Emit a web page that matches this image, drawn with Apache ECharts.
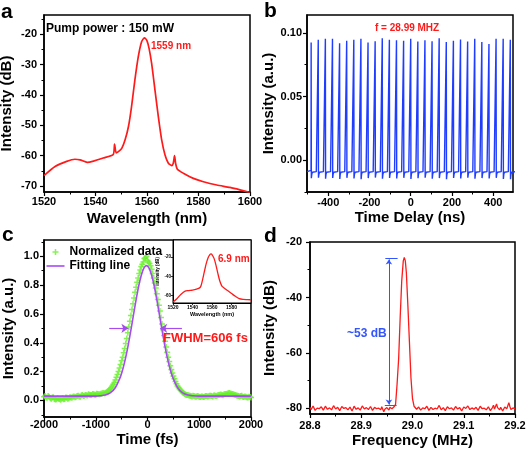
<!DOCTYPE html>
<html><head><meta charset="utf-8">
<script src="https://cdn.jsdelivr.net/npm/echarts@6/dist/echarts.min.js"></script>
<style>html,body{margin:0;padding:0;background:#fff}#c{width:527px;height:450px}</style>
</head><body><div id="c"></div>
<script>
// ---------- DATA ----------
// (a) optical spectrum
const A_WL = [1520,1524.3,1528.8,1532,1534,1536.8,1539.2,1543,1546.9,1547.4,1548,1548.9,1550.2,1551.5,1552.8,1554,1555.3,1556.6,1557.9,1559,1559.9,1560.8,1561.8,1563.1,1564.4,1565.7,1567,1568.3,1569.6,1570.2,1570.7,1571.1,1571.8,1574.1,1578,1581.9,1587.1,1592.2,1596.1,1600];
const A_DB = [-66.6,-63.6,-61.9,-61.2,-61.4,-62.2,-61.8,-60.8,-59.6,-56.2,-59.1,-58.7,-57.6,-54.8,-50.4,-43.8,-35,-27.4,-22.4,-21.1,-21.9,-24.6,-29.6,-38.4,-47.1,-54.8,-59.8,-62.5,-63.3,-62.5,-60,-62.5,-64.5,-65.8,-67.5,-68.6,-69.7,-70.5,-71.3,-72.2];
// (b) pulse train
const B_PULSE_T = [-482.9,-448.4,-413.9,-379.4,-344.9,-310.5,-276.0,-241.5,-207.0,-172.5,-138.0,-103.5,-69.0,-34.5,0.0,34.5,69.0,103.5,138.0,172.5,207.0,241.5,276.0,310.5,344.9,379.4,413.9,448.4,482.9];
const B_PEAK = [0.0924,0.0945,0.0953,0.0953,0.0919,0.0937,0.0945,0.0953,0.0924,0.0934,0.0958,0.0945,0.0942,0.0937,0.0953,0.0932,0.0942,0.0934,0.0958,0.0927,0.0937,0.0948,0.0932,0.0953,0.0927,0.0913,0.0953,0.0953,0.0945];
const B_TROUGH = [-0.0142,-0.0138,-0.0145,-0.0140,-0.0148,-0.0139,-0.0143,-0.0150,-0.0141,-0.0137,-0.0146,-0.0140,-0.0144,-0.0139,-0.0147,-0.0142,-0.0138,-0.0145,-0.0141,-0.0149,-0.0140,-0.0143,-0.0138,-0.0146,-0.0141,-0.0144,-0.0139,-0.0147,-0.0150];
const B_TAIL_DT = [3,6,9,15,25,33.5];
const B_TAIL_V = [-0.0112,-0.0095,-0.0110,-0.0102,-0.0090,-0.0080];
const B_START = [-503,-0.0090];
// (c) autocorrelation: two interleaved sample sets
const C_T0 = -2000, C_T0B = -1980, C_DT = 40;
const C_DATA = [0.025,0.020,0.030,0.015,0.020,0.010,0.008,0.012,0.005,0.015,
 0.010,0.018,0.015,0.020,0.025,0.022,0.030,0.028,0.035,0.030,
 0.038,0.035,0.040,0.038,0.042,0.040,0.045,0.042,0.048,0.050,
 0.055,0.065,0.080,0.100,0.125,0.160,0.200,0.250,0.300,0.360,
 0.430,0.510,0.590,0.670,0.750,0.820,0.880,0.930,0.960,0.990,
 0.970,0.950,0.910,0.850,0.780,0.700,0.620,0.530,0.450,0.370,
 0.300,0.240,0.190,0.150,0.115,0.090,0.070,0.055,0.045,0.038,
 0.035,0.030,0.032,0.028,0.030,0.025,0.028,0.024,0.030,0.028,
 0.032,0.030,0.035,0.030,0.036,0.040,0.038,0.042,0.045,0.050,
 0.048,0.045,0.040,0.035,0.030,0.030,0.025,0.028,0.022,0.025,0.020];
const C_DATA_B = [0.030,0.018,0.025,0.012,0.022,0.006,0.015,0.010,0.012,0.008,
 0.020,0.012,0.022,0.018,0.028,0.025,0.032,0.026,0.038,0.033,
 0.036,0.042,0.037,0.044,0.039,0.046,0.043,0.047,0.052,0.050,
 0.060,0.072,0.090,0.112,0.142,0.180,0.225,0.275,0.330,0.395,
 0.470,0.550,0.630,0.710,0.785,0.850,0.905,0.945,0.985,1.000,
 0.960,0.935,0.880,0.815,0.740,0.660,0.575,0.490,0.410,0.335,
 0.270,0.215,0.170,0.132,0.100,0.080,0.062,0.050,0.040,0.037,
 0.033,0.028,0.030,0.026,0.029,0.023,0.027,0.026,0.031,0.029,
 0.033,0.028,0.034,0.032,0.038,0.041,0.036,0.044,0.047,0.052,
 0.046,0.043,0.037,0.033,0.028,0.032,0.024,0.026,0.020,0.023];
const C_FIT_T = [-2000,-1000,-920,-820,-720,-620,-520,-470,-420,-370,-320,-270,-220,-170,-120,-70,-20,30,80,130,180,230,280,330,380,430,480,580,680,780,880,980,2000];
const C_FIT_V = [0.03,0.03,0.032,0.037,0.052,0.09,0.167,0.226,0.300,0.389,0.489,0.595,0.699,0.794,0.869,0.918,0.935,0.918,0.869,0.794,0.699,0.595,0.489,0.389,0.300,0.226,0.167,0.090,0.052,0.037,0.032,0.030,0.03];
const C_INSET_WL = [1520,1524,1528,1532,1536,1540,1544,1548,1550,1552,1554,1556,1558,1559,1560,1562,1564,1566,1568,1570,1572,1576,1580,1584,1588,1592,1596,1600];
const C_INSET_DB = [-67,-63.5,-59,-55.8,-55,-54.5,-53.5,-51.5,-45,-36,-27,-20.5,-17,-16.6,-17.2,-21,-28,-37,-45,-50,-52,-55,-58,-61,-63.5,-64.3,-64.5,-64.6];
// (d) RF spectrum
const D_DF = 0.004;
const D_L_F0 = 28.800, D_L2_F0 = 28.802, D_R_F0 = 29.008, D_R2_F0 = 29.006;
const D_NOISE_L = [-79.6,-80.2,-78.9,-80.5,-79.3,-80.8,-79.8,-80.1,-78.6,-80.4,
 -79.5,-80.9,-79.7,-80.2,-79.1,-80.6,-79.9,-80.3,-79.4,-81.0,
 -79.6,-80.1,-78.8,-80.5,-79.7,-80.2,-79.3,-80.7,-79.9,-80.4,
 -79.2,-80.8,-80.0,-79.5,-80.6,-79.4,-81.2,-79.8,-80.3,-79.6,-80.1,-79.4];
const D_NOISE_L2 = [-80.4,-79.1,-80.7,-79.9,-80.1,-79.4,-80.6,-79.2,-80.3,-79.8,
 -80.5,-79.0,-80.2,-79.6,-80.8,-79.3,-80.0,-79.7,-80.5,-79.5,
 -80.9,-79.2,-80.3,-79.8,-80.6,-79.1,-80.2,-79.7,-80.4,-79.3,
 -80.7,-79.6,-80.1,-79.9,-80.5,-79.2,-80.3,-79.7,-80.6,-79.5,-80.0];
const D_PEAK_F = [28.967,28.970,28.973,28.976,28.979,28.982,28.984,28.986,28.988,28.991,28.994,28.997,29.000,29.003];
const D_PEAK_V = [-78.5,-71,-62,-47,-34,-26.8,-25.6,-26.8,-31,-43,-56,-69,-76.5,-79.2];
const D_NOISE_R = [-80.3,-79.5,-80.6,-79.8,-80.1,-79.2,-80.7,-79.6,-80.4,-79.9,
 -80.2,-78.9,-80.5,-79.7,-80.8,-79.4,-80.1,-79.8,-80.6,-79.3,
 -80.2,-79.7,-80.9,-79.5,-80.0,-79.1,-80.4,-79.8,-80.3,-79.6,
 -80.7,-79.2,-80.1,-79.9,-80.5,-79.4,-80.8,-79.7,-80.2,-78.4,
 -80.3,-79.6,-80.9,-79.5,-80.1,-77.9,-80.4,-79.8,-80.2];
const D_NOISE_R2 = [-79.6,-80.4,-79.3,-80.7,-79.5,-80.2,-79.9,-80.5,-79.1,-80.3,
 -79.7,-80.6,-79.4,-80.1,-79.2,-80.8,-79.6,-80.3,-79.9,-80.5,
 -79.1,-80.4,-79.6,-80.2,-79.8,-80.7,-79.3,-80.1,-79.5,-80.6,
 -79.8,-80.3,-79.0,-80.5,-79.6,-80.2,-79.4,-80.6,-78.8,-80.3,
 -79.7,-80.5,-79.2,-80.4,-79.8,-80.1,-79.3,-80.6,-79.9];

// ---------- BUILD ----------
const FONT = '"Liberation Sans", Arial, sans-serif';
const RED = '#ff1a1a', BLUE = '#1f3dff', PURPLE = '#a64bf0', GREEN = '#68f02a', ABLUE = '#3355ff';
const xAxes = [], yAxes = [];
function addAxes(list, dim, grid, cfg) {
  const pos = dim === 'x' ? 'bottom' : 'left';
  list.push({
    type: 'value', gridIndex: grid, min: cfg.min, max: cfg.max, position: pos,
    axisLine: {show: true, onZero: false, lineStyle: {color: '#000', width: cfg.lw || 1.5}},
    axisTick: {show: true, customValues: cfg.major, length: cfg.tl || 4, lineStyle: {color: '#000', width: cfg.tw || 1.2}},
    axisLabel: {show: true, customValues: cfg.major, formatter: cfg.fmt, margin: cfg.margin,
      color: '#000', fontFamily: FONT, fontWeight: 'bold', fontSize: cfg.fs || 11},
    splitLine: {show: false},
    name: cfg.name, nameLocation: 'middle', nameGap: cfg.nameGap,
    nameTextStyle: {color: '#000', fontFamily: FONT, fontWeight: 'bold', fontSize: cfg.nfs || 15}
  });
  const idx = list.length - 1;
  if (cfg.minor) {
    list.push({
      type: 'value', gridIndex: grid, min: cfg.min, max: cfg.max, position: pos,
      axisLine: {show: false, onZero: false},
      axisTick: {show: true, customValues: cfg.minor, length: cfg.mtl || 2.5, lineStyle: {color: '#000', width: 1}},
      axisLabel: {show: false}, splitLine: {show: false}
    });
  }
  return idx;
}
const f0 = v => String(v), f1 = v => v.toFixed(1), f2 = v => v.toFixed(2);

const grids = [
  {left: 44, top: 15, width: 206, height: 177},
  {left: 307, top: 15, width: 206, height: 177},
  {left: 44, top: 240, width: 207, height: 177},
  {left: 310, top: 242, width: 205, height: 172},
  {left: 173, top: 240, width: 78, height: 63}
].map((g, i) => Object.assign(g, {show: true, borderColor: '#000', borderWidth: i === 4 ? 1 : 1.5,
  backgroundColor: i === 4 ? '#fff' : 'transparent', containLabel: false, outerBoundsMode: 'none'}));

const ax = addAxes(xAxes, 'x', 0, {min: 1520, max: 1600, major: [1520,1540,1560,1580,1600], minor: [1530,1550,1570,1590], fmt: f0, margin: 4, name: 'Wavelength (nm)', nameGap: 19});
const ay = addAxes(yAxes, 'y', 0, {min: -72, max: -13.6, major: [-70,-60,-50,-40,-30,-20], minor: [-65,-55,-45,-35,-25,-15], fmt: f0, margin: 7, name: 'Intensity (dB)', nameGap: 30});
const bx = addAxes(xAxes, 'x', 1, {min: -503, max: 496, major: [-400,-200,0,200,400], minor: [-500,-300,-100,100,300], fmt: f0, margin: 5, name: 'Time Delay (ns)', nameGap: 18});
const by = addAxes(yAxes, 'y', 1, {min: -0.025, max: 0.114, major: [0,0.05,0.10], minor: [-0.025,0.025,0.075], fmt: f2, margin: 5, name: 'Intensity (a.u.)', nameGap: 31});
const cx = addAxes(xAxes, 'x', 2, {min: -2000, max: 2000, major: [-2000,-1000,0,1000,2000], minor: [-1500,-500,500,1500], fmt: f0, margin: 2, name: 'Time (fs)', nameGap: 15});
const cy = addAxes(yAxes, 'y', 2, {min: -0.115, max: 1.113, major: [0,0.2,0.4,0.6,0.8,1.0], minor: [-0.1,0.1,0.3,0.5,0.7,0.9,1.1], fmt: f1, margin: 5, name: 'Intensity (a.u.)', nameGap: 28});
const dx = addAxes(xAxes, 'x', 3, {min: 28.8, max: 29.2, major: [28.8,28.9,29.0,29.1,29.2], minor: [28.85,28.95,29.05,29.15], fmt: f1, margin: 6, name: 'Frequency (MHz)', nameGap: 19});
const dy = addAxes(yAxes, 'y', 3, {min: -82, max: -20, major: [-80,-60,-40,-20], minor: [-70,-50,-30], fmt: f0, margin: 8, name: 'Intensity (dB)', nameGap: 33});
const ix = addAxes(xAxes, 'x', 4, {min: 1520, max: 1600, major: [1520,1540,1560,1580], fmt: f0, margin: 2, fs: 5, lw: 1, tl: 2, tw: 0.8, name: 'Wavelength (nm)', nfs: 5.5, nameGap: 8});
const iy = addAxes(yAxes, 'y', 4, {min: -68, max: -2, major: [-60,-40,-20], fmt: f0, margin: 2, fs: 4.5, lw: 1, tl: 2, tw: 0.8, name: 'Intensity (dB)', nfs: 4.5, nameGap: 9});

const aData = A_WL.map((w, i) => [w, A_DB[i]]);
const bData = [B_START];
B_PULSE_T.forEach((t, i) => {
  bData.push([t - 0.4, -0.0080], [t, B_PEAK[i]], [t + 1.0, B_TROUGH[i]]);
  B_TAIL_DT.forEach((dt, j) => bData.push([t + dt, B_TAIL_V[j]]));
});
const cData = C_DATA.map((v, i) => [C_T0 + i * C_DT, v])
  .concat(C_DATA_B.map((v, i) => [C_T0B + i * C_DT, v]));
const cFit = C_FIT_T.map((t, i) => [t, C_FIT_V[i]]);
const cInset = C_INSET_WL.map((w, i) => [w, C_INSET_DB[i]]);
const dData = D_NOISE_L.map((v, i) => [D_L_F0 + i * D_DF, v])
  .concat(D_NOISE_L2.map((v, i) => [D_L2_F0 + i * D_DF, v]))
  .concat(D_PEAK_F.map((f, i) => [f, D_PEAK_V[i]]))
  .concat(D_NOISE_R.map((v, i) => [D_R_F0 + i * D_DF, v]))
  .concat(D_NOISE_R2.map((v, i) => [D_R2_F0 + i * D_DF, v]))
  .sort((p, q) => p[0] - q[0]);

function txt(x, y, text, size, color) {
  return {type: 'text', x: x, y: y, z: 100, style: {text: text, fill: color || '#000',
    font: 'bold ' + size + 'px ' + FONT, align: 'left', verticalAlign: 'middle', textAlign: 'left', textVerticalAlign: 'middle'}};
}
const CROSS = 'path://M3,0H5V3H8V5H5V8H3V5H0V3H3Z';

const option = {
  animation: false,
  backgroundColor: '#fff',
  grid: grids,
  xAxis: xAxes,
  yAxis: yAxes,
  legend: {
    orient: 'vertical', left: 46.5, top: 246, padding: 0, itemWidth: 18, itemHeight: 6, itemGap: 2,
    selectedMode: false,
    textStyle: {fontFamily: FONT, fontWeight: 'bold', fontSize: 12, color: '#000', lineHeight: 12},
    data: [{name: 'Normalized data', icon: CROSS}, {name: 'Fitting line', icon: 'path://M0,0H18V1.6H0Z'}]
  },
  series: [
    {type: 'line', name: 'Spectrum', xAxisIndex: ax, yAxisIndex: ay, data: aData, symbol: 'none', smooth: 0.2,
      lineStyle: {color: RED, width: 1.7}, itemStyle: {color: RED}},
    {type: 'line', name: 'Pulse train', xAxisIndex: bx, yAxisIndex: by, data: bData, symbol: 'none',
      lineStyle: {color: BLUE, width: 1.4}, itemStyle: {color: BLUE}},
    {type: 'scatter', name: 'Normalized data', xAxisIndex: cx, yAxisIndex: cy, data: cData,
      symbol: CROSS, symbolSize: 6, itemStyle: {color: GREEN}},
    {type: 'line', name: 'Fitting line', xAxisIndex: cx, yAxisIndex: cy, data: cFit, symbol: 'none', smooth: 0.3,
      lineStyle: {color: PURPLE, width: 1.6}, itemStyle: {color: PURPLE},
      markLine: {silent: true, animation: false, symbol: ['none', 'arrow'], symbolSize: 7,
        label: {show: false}, lineStyle: {color: PURPLE, width: 1.2, type: 'solid'},
        data: [[{coord: [-740, 0.5]}, {coord: [-369, 0.5]}], [{coord: [665, 0.5]}, {coord: [245, 0.5]}]]}},
    {type: 'line', name: 'Inset spectrum', xAxisIndex: ix, yAxisIndex: iy, data: cInset, symbol: 'none', smooth: 0.3,
      lineStyle: {color: RED, width: 1.3}, itemStyle: {color: RED}},
    {type: 'line', name: 'RF spectrum', xAxisIndex: dx, yAxisIndex: dy, data: dData, symbol: 'none',
      lineStyle: {color: RED, width: 1.3}, itemStyle: {color: RED},
      markLine: {silent: true, animation: false, symbol: ['arrow', 'arrow'], symbolSize: 5,
        label: {show: false}, lineStyle: {color: ABLUE, width: 1, type: 'solid'},
        data: [
          [{coord: [28.954, -26.3]}, {coord: [28.954, -78.6]}],
          [{coord: [28.947, -25.7], symbol: 'none'}, {coord: [28.971, -25.7], symbol: 'none'}],
          [{coord: [28.946, -79.0], symbol: 'none'}, {coord: [28.969, -79.0], symbol: 'none'}]
        ]}}
  ],
  graphic: [
    txt(1, 12, 'a', 21), txt(264, 11, 'b', 21), txt(2, 235, 'c', 21), txt(264, 236, 'd', 21),
    txt(46, 29, 'Pump power : 150 mW', 12),
    txt(151, 46.3, '1559 nm', 10, RED),
    txt(375, 28.7, 'f = 28.99 MHZ', 10, RED),
    txt(163, 338.3, 'FWHM=606 fs', 13, RED),
    txt(218, 259.5, '6.9 nm', 10, RED),
    txt(347, 333.5, '~53 dB', 12, ABLUE)
  ]
};
const chart = echarts.init(document.getElementById('c'), null, {renderer: 'canvas'});
chart.setOption(option);
</script>
</body></html>
